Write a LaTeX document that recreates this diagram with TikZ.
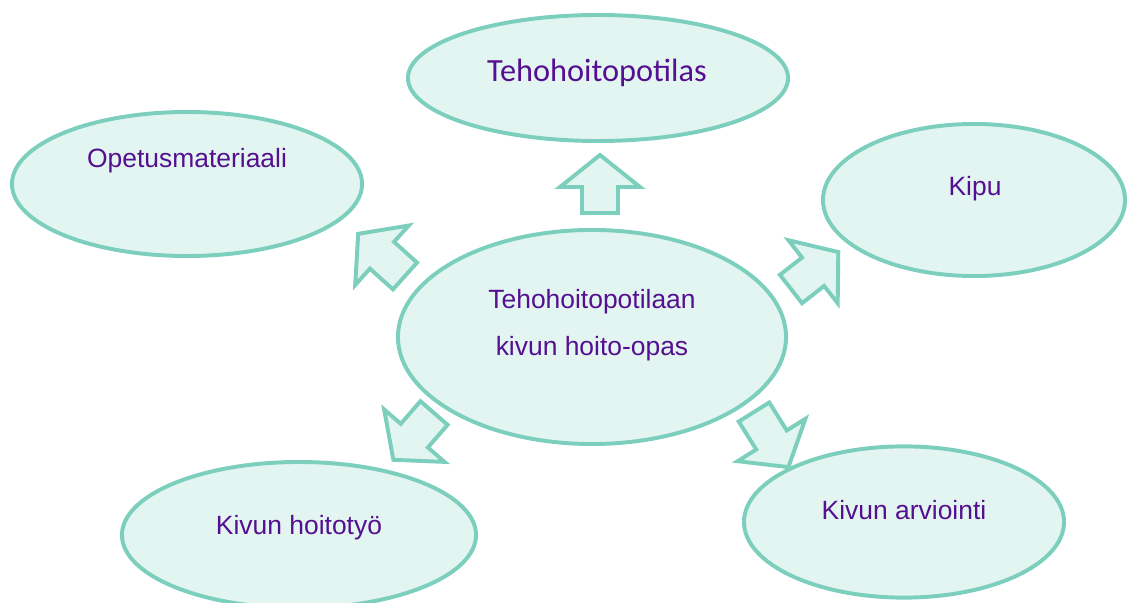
\documentclass[tikz,border=0pt]{standalone}
\usepackage{fontspec}
\setmainfont{Liberation Sans}
\newfontfamily\otsikkofont{Carlito}
\usetikzlibrary{shapes.geometric}
\definecolor{reuna}{RGB}{124,207,189}
\definecolor{tayte}{RGB}{227,245,240}
\definecolor{teksti}{RGB}{85,15,145}

\begin{document}
\begin{tikzpicture}[
	x=0.025cm, y=-0.025cm,
	kupla/.style ={ellipse, draw=reuna, fill=tayte, line width=2.8pt, inner sep=0pt},
	nuoli/.style ={draw=reuna, fill=tayte, line width=2.8pt, line join=miter},
	teksti/.style ={text=teksti, font=\fontsize{18.8}{33}\selectfont, align=center}]

	\def\nuoli(#1)(#2:#3)% Syntax: (base) (angle:length)
		{\begin{scope}[shift={(#1)}, rotate=#2]
			\draw[nuoli] (0,-18) -- (#3-32,-18) -- (#3-32,-40) -- (#3,0)
				-- (#3-32,40) -- (#3-32,18) -- (0,18) -- cycle;
		\end{scope}}

	\useasboundingbox (0,0) rectangle (1128,603);

	% ellipses
	\node [kupla, minimum width=9.5cm, minimum height=3.15cm] (teho) at (598,78) {};
	\node [kupla, minimum width=8.75cm, minimum height=3.6cm] (opetus) at (187,184) {};
	\node [kupla, minimum width=7.55cm, minimum height=3.8cm] (kipu) at (974,200) {};
	\node [kupla, minimum width=9.7cm, minimum height=5.35cm] (opas) at (592,337) {};
	\node [kupla, minimum width=8.85cm, minimum height=3.65cm] (hoitotyo) at (299,535) {};
	\node [kupla, minimum width=8.0cm, minimum height=3.78cm] (arviointi) at (904,522) {};

	% block arrows
	\nuoli(600,213)(90:58)
	\nuoli(405,276)(138:63)
	\nuoli(791,289)(38:60)
	\nuoli(434,413)(229:62)
	\nuoli(754,412)(-58:65)

	% texts
	\node [teksti, font=\otsikkofont\fontsize{23}{28}\selectfont] (tehoT) at (597,73) {Tehohoitopotilas};
	\node [teksti] (opetusT) at (187,161) {Opetusmateriaali};
	\node [teksti] (kipuT) at (975,189) {Kipu};
	\node [teksti] (opasT) at (592,325) {Tehohoitopotilaan\\kivun hoito-opas};
	\node [teksti] (hoitotyoT) at (299,528) {Kivun hoitotyö};
	\node [teksti] (arviointiT) at (904,510) {Kivun arviointi};

\end{tikzpicture}
\end{document}
